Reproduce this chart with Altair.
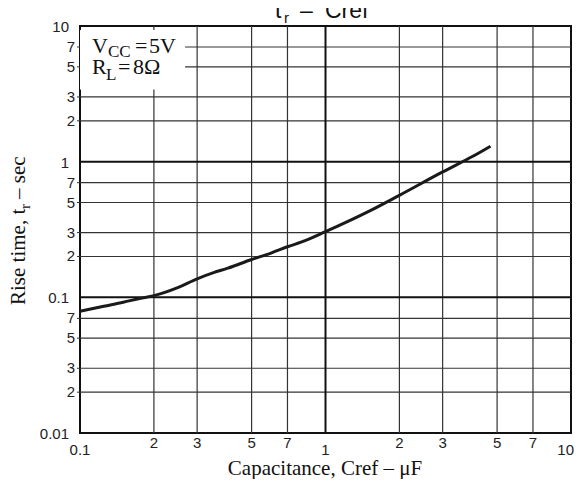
import altair as alt
import pandas as pd

# ---- data ----
cap_x = [0.1, 0.125, 0.15, 0.175, 0.2, 0.25, 0.3, 0.35, 0.4, 0.5, 0.6, 0.7, 0.8, 1.0, 1.5, 2.0, 3.0, 4.0, 4.7]
rise_y = [0.079, 0.086, 0.092, 0.098, 0.103, 0.118, 0.137, 0.152, 0.164, 0.19, 0.212, 0.236, 0.256, 0.305, 0.43, 0.565, 0.84, 1.1, 1.3]

x_minor = [0.2, 0.3, 0.5, 0.7, 2, 3, 5, 7]
x_minor_labels = ["2", "3", "5", "7", "2", "3", "5", "7"]
x_major_grid = [1]
x_decades = [0.1, 1]
x_decade_labels = ["0.1", "1"]
x_end = [10]
x_end_labels = ["10"]

y_minor = [0.02, 0.03, 0.05, 0.07, 0.2, 0.3, 0.5, 0.7, 2, 3, 5, 7]
y_minor_labels = ["2", "3", "5", "7"] * 3
y_major_grid = [0.1, 1]
y_decades = [0.01, 0.1, 1, 10]
y_decade_labels = ["0.01", "0.1", "1", "10"]

legend_box_x = [0.1, 0.268]
legend_box_y = [3.4, 9.33]

W, H = 491, 407
SERIF = "Liberation Serif"
SANS = "Liberation Sans"
FS = 15

xs = alt.Scale(type="log", domain=[0.1, 10], nice=False)
ys = alt.Scale(type="log", domain=[0.01, 10], nice=False)

layers = []

# grid lines
layers.append(alt.Chart(pd.DataFrame({"x": x_minor})).mark_rule(color="#333", strokeWidth=1.2)
              .encode(x=alt.X("x:Q", scale=xs, axis=None)))
layers.append(alt.Chart(pd.DataFrame({"y": y_minor})).mark_rule(color="#333", strokeWidth=1.2)
              .encode(y=alt.Y("y:Q", scale=ys, axis=None)))
layers.append(alt.Chart(pd.DataFrame({"x": x_major_grid})).mark_rule(color="#111", strokeWidth=2)
              .encode(x=alt.X("x:Q", scale=xs, axis=None)))
layers.append(alt.Chart(pd.DataFrame({"y": y_major_grid})).mark_rule(color="#111", strokeWidth=2)
              .encode(y=alt.Y("y:Q", scale=ys, axis=None)))

# legend box (white, covers grid)
layers.append(alt.Chart(pd.DataFrame({"x": [legend_box_x[0]], "x2": [legend_box_x[1]],
                                      "y": [legend_box_y[0]], "y2": [legend_box_y[1]]}))
              .mark_rect(fill="white")
              .encode(x=alt.X("x:Q", scale=xs, axis=None), x2="x2:Q",
                      y=alt.Y("y:Q", scale=ys, axis=None), y2="y2:Q"))

# curve
layers.append(alt.Chart(pd.DataFrame({"c": cap_x, "t": rise_y}))
              .mark_line(color="#1a1a1a", strokeWidth=3, interpolate="monotone")
              .encode(x=alt.X("c:Q", scale=xs, axis=None), y=alt.Y("t:Q", scale=ys, axis=None)))

# y ticks
layers.append(alt.Chart(pd.DataFrame({"y": y_minor})).mark_rule(color="#333", strokeWidth=1)
              .encode(y=alt.Y("y:Q", scale=ys, axis=None), x=alt.value(-3), x2=alt.value(0)))

# tick labels
layers.append(alt.Chart(pd.DataFrame({"v": y_minor, "l": y_minor_labels}))
              .mark_text(font=SANS, fontSize=FS, color="#222", align="right", baseline="middle")
              .encode(y=alt.Y("v:Q", scale=ys, axis=None), x=alt.value(-5), text="l:N"))
layers.append(alt.Chart(pd.DataFrame({"v": y_decades, "l": y_decade_labels}))
              .mark_text(font=SANS, fontSize=FS, color="#222", align="right", baseline="middle", dy=1)
              .encode(y=alt.Y("v:Q", scale=ys, axis=None), x=alt.value(-11), text="l:N"))
layers.append(alt.Chart(pd.DataFrame({"v": x_minor, "l": x_minor_labels}))
              .mark_text(font=SANS, fontSize=FS, color="#222", align="center", baseline="middle")
              .encode(x=alt.X("v:Q", scale=xs, axis=None), y=alt.value(H + 10), text="l:N"))
layers.append(alt.Chart(pd.DataFrame({"v": x_decades, "l": x_decade_labels}))
              .mark_text(font=SANS, fontSize=FS, color="#222", align="center", baseline="middle")
              .encode(x=alt.X("v:Q", scale=xs, axis=None), y=alt.value(H + 17), text="l:N"))
layers.append(alt.Chart(pd.DataFrame({"v": x_end, "l": x_end_labels}))
              .mark_text(font=SANS, fontSize=FS, color="#222", align="right", baseline="middle", dx=3)
              .encode(x=alt.X("v:Q", scale=xs, axis=None), y=alt.value(H + 17), text="l:N"))


def piece(text, x, y, size, font, angle=0, align="left"):
    return (alt.Chart(pd.DataFrame({"t": [text]}))
            .mark_text(font=font, fontSize=size, color="#111", align=align,
                       baseline="alphabetic", angle=angle)
            .encode(x=alt.value(x), y=alt.value(y), text="t:N"))


# title  t_r – Cref
title_parts = [("t", 195, -8, 23), ("r", 204, -3, 15), ("\u2013", 220, -8, 23), ("Cref", 245, -8, 23)]
for t, x, y, s in title_parts:
    layers.append(piece(t, x, y, s, SANS))

# y-axis title  Rise time, t_r – sec
ytitle_parts = [("Rise time, t", -55, 279, 21), ("r", -50, 183, 15), ("\u2013 sec", -55, 173, 21)]
for t, x, y, s in ytitle_parts:
    layers.append(piece(t, x, y, s, SERIF, angle=270))

# x-axis title
layers.append(piece("Capacitance, Cref \u2013 \u03bcF", 245, 449, 21, SERIF, align="center"))

# legend text  V_CC = 5V / R_L = 8Ω
legend_parts = [("V", 12, 27, 22), ("CC", 28, 31, 17), ("=", 55, 27, 22), ("5V", 69, 27, 22),
                ("R", 12, 48, 22), ("L", 26, 54, 17), ("=", 38, 48, 22), ("8\u03a9", 53, 48, 22)]
for t, x, y, s in legend_parts:
    layers.append(piece(t, x, y, s, SERIF))

chart = (alt.layer(*layers)
         .properties(width=W, height=H, autosize=alt.AutoSizeParams(type="none"),
                     padding={"left": 72, "top": 18, "right": 3, "bottom": 46})
         .configure_view(stroke="#111", strokeWidth=2))

chart.save("out.html", embed_options={"renderer": "svg", "actions": False})
